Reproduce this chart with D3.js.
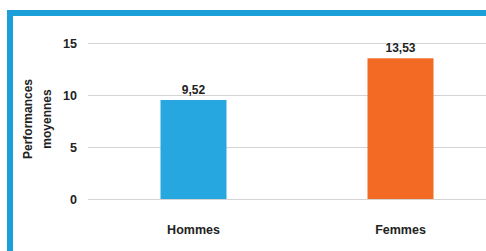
<!DOCTYPE html>
<html><head><meta charset="utf-8">
<script src="https://cdn.jsdelivr.net/npm/d3@7"></script>
<style>
html,body{margin:0;padding:0;background:#fff;}
svg{display:block;}
text{font-family:"Liberation Sans",Arial,sans-serif;font-weight:bold;fill:#222;}
</style></head>
<body>
<svg id="chart" width="486" height="251"></svg>
<script>
const categories = ["Hommes", "Femmes"];
const values = [9.52, 13.53];
const valueLabels = ["9,52", "13,53"];
const colors = ["#27a7e0", "#f26a24"];
const yTicks = [0, 5, 10, 15];
const yTitle = ["Performances", "moyennes"];

const svg = d3.select("#chart");
// frame
svg.append("rect").attr("x", 10).attr("y", 13).attr("width", 500).attr("height", 260)
  .attr("fill", "#fff").attr("stroke", "#1a9fd9").attr("stroke-width", 6);

const y = d3.scaleLinear().domain([0, 15]).range([199, 43]);
const x = d3.scaleBand().domain(categories).range([90, 504]).paddingInner(0).paddingOuter(0);
const barW = 66;

// grid
const grid = svg.append("g")
  .call(d3.axisLeft(y).tickValues(yTicks).tickSize(-(486 - 88)).tickFormat(d => d))
  .attr("transform", "translate(88,0)");
grid.select(".domain").remove();
grid.selectAll(".tick line").attr("stroke", "#d4d4d4").attr("stroke-width", 1);
grid.selectAll(".tick text").attr("x", -11).attr("font-size", 12.5).attr("fill", "#222")
  .style("font-family", "'Liberation Sans',Arial,sans-serif").style("font-weight", "bold");

// bars
svg.selectAll("rect.bar").data(values).enter().append("rect").attr("class", "bar")
  .attr("x", (d, i) => x(categories[i]) + x.bandwidth() / 2 - barW / 2)
  .attr("width", barW)
  .attr("y", d => y(d))
  .attr("height", d => y(0) - y(d))
  .attr("fill", (d, i) => colors[i]);

// value labels
svg.selectAll("text.val").data(values).enter().append("text").attr("class", "val")
  .attr("x", (d, i) => x(categories[i]) + x.bandwidth() / 2)
  .attr("y", d => y(d) - 6)
  .attr("text-anchor", "middle").attr("font-size", 12)
  .text((d, i) => valueLabels[i]);

// category labels
const xa = svg.append("g").attr("transform", "translate(0,199)")
  .call(d3.axisBottom(x).tickSize(0).tickPadding(26));
xa.select(".domain").remove();
xa.selectAll(".tick text").attr("font-size", 12.5).attr("fill", "#222")
  .style("font-family", "'Liberation Sans',Arial,sans-serif").style("font-weight", "bold");

// y title
const t = svg.append("text").attr("transform", "translate(0,119) rotate(-90)")
  .attr("text-anchor", "middle").attr("font-size", 12);
t.append("tspan").attr("x", 0).attr("y", 32).text(yTitle[0]);
t.append("tspan").attr("x", 0).attr("y", 51).text(yTitle[1]);
</script>
</body></html>
